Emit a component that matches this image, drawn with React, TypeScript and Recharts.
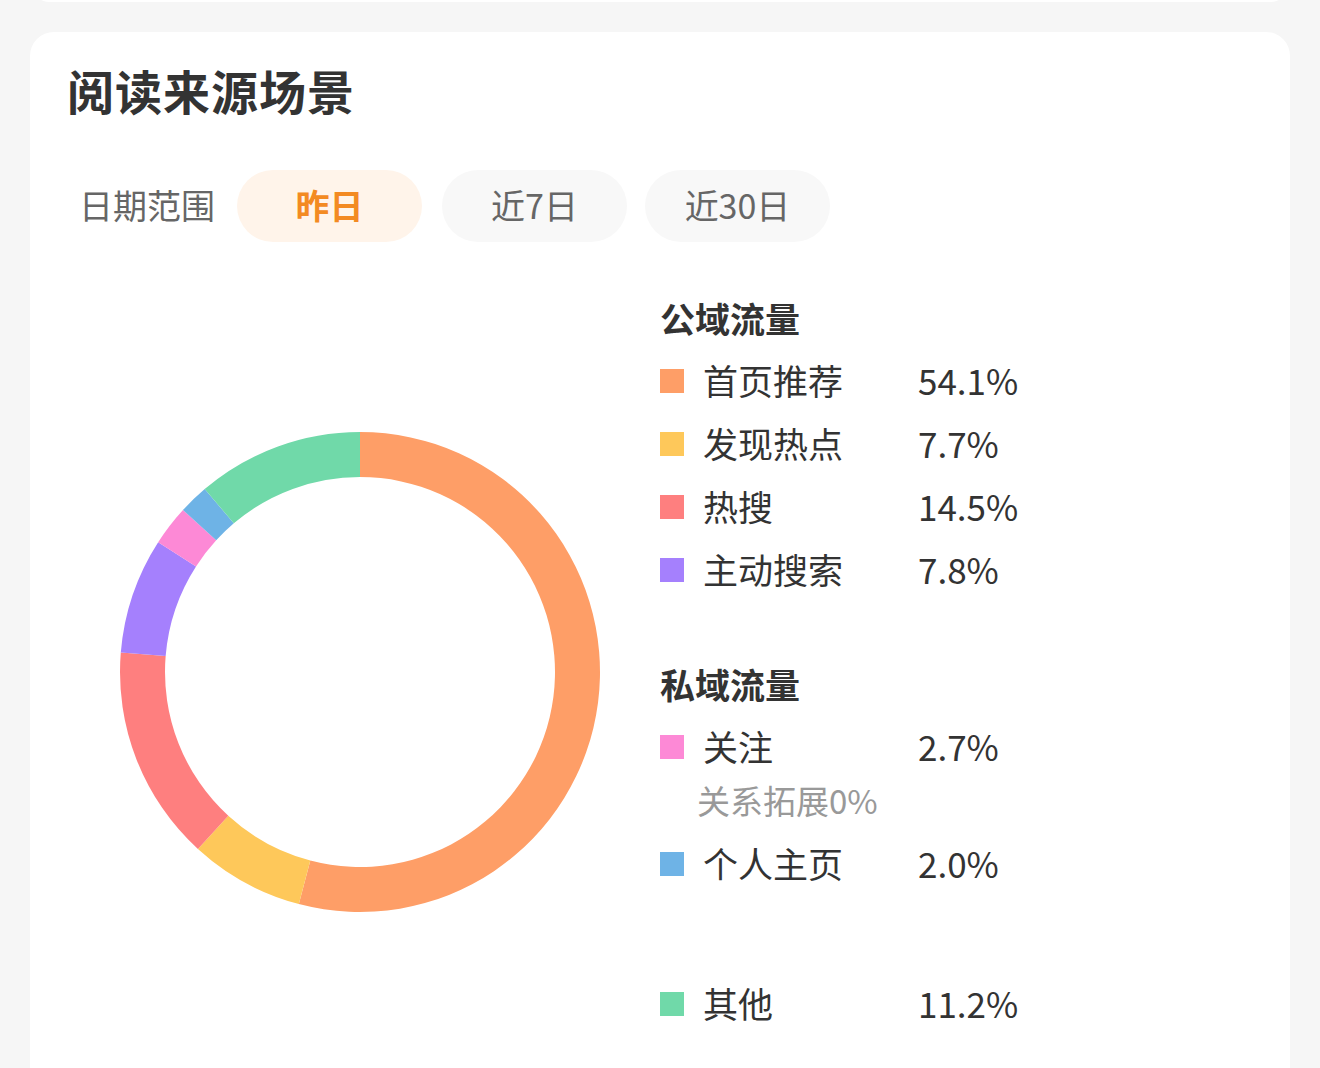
import { PieChart, Pie, Cell } from "recharts";

const sources = ["首页推荐", "发现热点", "热搜", "主动搜索", "关注", "个人主页", "其他"];
const shares = [54.1, 7.7, 14.5, 7.8, 2.7, 2.0, 11.2];
const colors = ["#FE9E67", "#FEC85A", "#FE7F7F", "#A580FD", "#FD89D6", "#6EB3E6", "#70D9A9"];
const groupTitles = ["公域流量", "私域流量"];
const dateTabs = ["昨日", "近7日", "近30日"];
const subNote = "关系拓展0%";

const FONT = '"Noto Sans CJK SC", "Noto Sans", sans-serif';

// row centres (y) of the legend lines, top to bottom
const ROW_Y = [380, 443, 506, 569, 746, 863, 1003];
const GROUP_Y = [318, 684];
const NOTE_Y = 800;

const chartData = sources.map((name, i) => ({ name, value: shares[i] }));

const Row = ({ y, children }: { y: number; children: any }) => (
  <div
    style={{
      position: "absolute",
      left: 0,
      top: y - 25,
      height: 50,
      lineHeight: "50px",
      width: 600,
    }}
  >
    {children}
  </div>
);

export default function App() {
  return (
    <div
      style={{
        position: "fixed",
        left: 0,
        top: 0,
        width: 1320,
        height: 1068,
        background: "#F6F6F6",
        overflow: "hidden",
        fontFamily: FONT,
      }}
    >
      {/* bottom of the card above */}
      <div
        style={{
          position: "absolute",
          left: 30,
          top: -40,
          width: 1260,
          height: 42,
          background: "#fff",
          borderRadius: 20,
        }}
      />
      <div
        style={{
          position: "absolute",
          left: 30,
          top: 32,
          width: 1260,
          height: 1100,
          background: "#fff",
          borderRadius: 24,
        }}
      />

      <div
        style={{
          position: "absolute",
          left: 67,
          top: 60,
          fontSize: 47,
          fontWeight: 700,
          color: "#333",
          lineHeight: "60px",
          letterSpacing: 1,
        }}
      >
        阅读来源场景
      </div>

      <div
        style={{
          position: "absolute",
          left: 79,
          top: 180,
          fontSize: 34,
          color: "#666",
          lineHeight: "50px",
        }}
      >
        日期范围
      </div>
      {dateTabs.map((t, i) => (
        <div
          key={t}
          style={{
            position: "absolute",
            left: [237, 442, 645][i],
            top: 170,
            width: 185,
            height: 72,
            borderRadius: 36,
            background: i === 0 ? "#FFF4EA" : "#F8F8F8",
            color: i === 0 ? "#F38A22" : "#666",
            fontWeight: i === 0 ? 700 : 400,
            fontSize: 34,
            lineHeight: "70px",
            textAlign: "center",
          }}
        >
          {t}
        </div>
      ))}

      <div style={{ position: "absolute", left: 55, top: 367 }}>
        <PieChart width={600} height={600}>
          <Pie
            data={chartData}
            dataKey="value"
            nameKey="name"
            cx={300}
            cy={300}
            innerRadius={195}
            outerRadius={240}
            startAngle={90}
            endAngle={-270}
            stroke="none"
            isAnimationActive={false}
          >
            {chartData.map((d, i) => (
              <Cell key={d.name} fill={colors[i]} />
            ))}
          </Pie>
        </PieChart>
      </div>

      <div style={{ position: "absolute", left: 660, top: 0, color: "#333" }}>
        {groupTitles.map((g, i) => (
          <Row key={g} y={GROUP_Y[i]}>
            <span style={{ fontSize: 35, fontWeight: 700 }}>{g}</span>
          </Row>
        ))}
        {sources.map((s, i) => (
          <Row key={s} y={ROW_Y[i]}>
            <span
              style={{
                position: "absolute",
                left: 0,
                top: 14,
                width: 24,
                height: 24,
                background: colors[i],
              }}
            />
            <span style={{ position: "absolute", left: 43, fontSize: 35 }}>{s}</span>
            <span style={{ position: "absolute", left: 258, fontSize: 35 }}>
              {shares[i].toFixed(1)}%
            </span>
          </Row>
        ))}
        <Row y={NOTE_Y}>
          <span style={{ position: "absolute", left: 37, fontSize: 33, color: "#999" }}>
            {subNote}
          </span>
        </Row>
      </div>
    </div>
  );
}
